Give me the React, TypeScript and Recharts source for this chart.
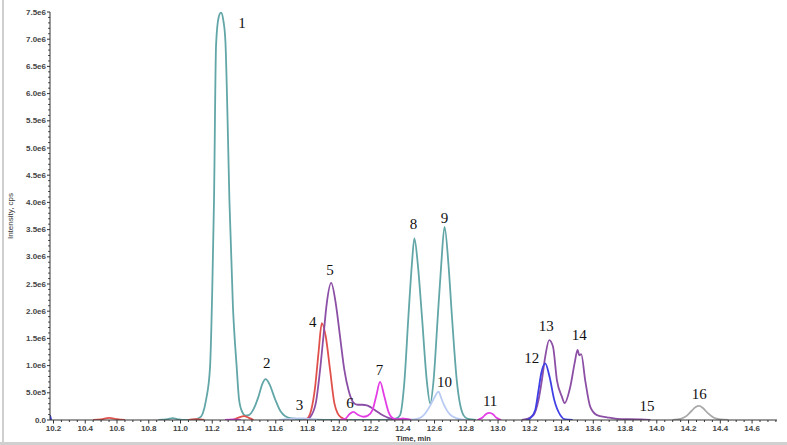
import React from "react";
import { ComposedChart, Line, XAxis, YAxis, ReferenceDot } from "recharts";

// ---- axis ticks ----
const xMajorTicks = [10.2, 10.4, 10.6, 10.8, 11.0, 11.2, 11.4, 11.6, 11.8, 12.0, 12.2, 12.4, 12.6, 12.8, 13.0, 13.2, 13.4, 13.6, 13.8, 14.0, 14.2, 14.4, 14.6];
const xTickLabels = ["10.2", "10.4", "10.6", "10.8", "11.0", "11.2", "11.4", "11.6", "11.8", "12.0", "12.2", "12.4", "12.6", "12.8", "13.0", "13.2", "13.4", "13.6", "13.8", "14.0", "14.2", "14.4", "14.6"];
const yMajorTicks = [0, 0.5, 1, 1.5, 2, 2.5, 3, 3.5, 4, 4.5, 5, 5.5, 6, 6.5, 7, 7.5];
const yTickLabels = ["0.0", "5.0e5", "1.0e6", "1.5e6", "2.0e6", "2.5e6", "3.0e6", "3.5e6", "4.0e6", "4.5e6", "5.0e6", "5.5e6", "6.0e6", "6.5e6", "7.0e6", "7.5e6"];
const xMinorTicks = Array.from({ length: 92 }, (_, i) => Math.round((10.2 + i * 0.05) * 100) / 100);
const yMinorTicks = Array.from({ length: 76 }, (_, i) => i / 10);

// ---- traces: [time (min), intensity (1e6 cps)] ----
const teal: (number | null)[][] = [
  [10.86, 0.0], [10.92, 0.015], [10.95, 0.035], [10.99, 0.01], [11.03, 0.0], [11.08, 0.005],
  [11.12, 0.04], [11.14, 0.12], [11.161, 0.37], [11.186, 0.97], [11.2, 2.4], [11.211, 4.04],
  [11.224, 6.9], [11.24, 7.4], [11.255, 7.49], [11.27, 7.34], [11.283, 6.95], [11.295, 5.7],
  [11.308, 4.04], [11.33, 2.1], [11.354, 0.97], [11.369, 0.37], [11.39, 0.14], [11.41, 0.08], [11.43, 0.09],
  [11.46, 0.2], [11.49, 0.42], [11.515, 0.66], [11.537, 0.75], [11.56, 0.66], [11.596, 0.38],
  [11.63, 0.16], [11.66, 0.07], [11.7, 0.03], [11.76, 0.015], [11.85, 0.005], [11.95, 0.0],
  [12.3, 0.0], [12.36, 0.03], [12.383, 0.09], [12.41, 0.7], [12.436, 1.93], [12.457, 2.85],
  [12.473, 3.34], [12.495, 2.85], [12.52, 1.93], [12.552, 0.7], [12.573, 0.3], [12.593, 0.7],
  [12.621, 1.93], [12.642, 2.85], [12.663, 3.55], [12.688, 2.85], [12.709, 1.93], [12.741, 0.7],
  [12.782, 0.09], [12.81, 0.02], [12.86, 0.0],
];
const red: (number | null)[][] = [
  [10.45, 0.0], [10.5, 0.01], [10.55, 0.04], [10.6, 0.015], [10.65, 0.0], [10.7, null],
  [11.05, 0.0], [11.1, 0.015], [11.15, 0.0], [11.2, null],
  [11.33, 0.0], [11.37, 0.05], [11.4, 0.07], [11.43, 0.04], [11.46, 0.0], [11.5, null],
  [11.78, 0.0], [11.806, 0.05], [11.823, 0.18], [11.848, 0.61], [11.869, 1.23], [11.89, 1.78],
  [11.915, 1.53], [11.942, 0.92], [11.969, 0.31], [11.99, 0.12], [12.016, 0.04], [12.05, 0.0],
];
const purple: (number | null)[][] = [
  [11.79, 0.0], [11.816, 0.05], [11.852, 0.31], [11.879, 0.92], [11.9, 1.53], [11.921, 2.14],
  [11.949, 2.52], [11.978, 2.14], [12.005, 1.53], [12.032, 0.92], [12.058, 0.55], [12.089, 0.32],
  [12.115, 0.28], [12.145, 0.28], [12.174, 0.27], [12.2, 0.23], [12.226, 0.18], [12.26, 0.11],
  [12.3, 0.05], [12.35, 0.01], [12.4, 0.02], [12.45, 0.0], [12.5, null],
  [13.15, 0.0], [13.182, 0.02], [13.223, 0.09], [13.255, 0.37], [13.276, 0.73], [13.297, 1.16],
  [13.322, 1.47], [13.346, 1.35], [13.371, 0.73], [13.402, 0.43], [13.419, 0.31], [13.455, 0.61],
  [13.482, 1.04], [13.501, 1.29], [13.511, 1.19], [13.524, 1.21], [13.549, 0.73], [13.581, 0.24],
  [13.623, 0.09], [13.686, 0.05], [13.75, 0.02], [13.9, 0.01], [13.96, 0.0],
];
const magenta: (number | null)[][] = [
  [11.28, 0.0], [11.33, 0.01], [11.38, 0.0], [11.42, null],
  [12.0, 0.0], [12.037, 0.02], [12.065, 0.11], [12.089, 0.15], [12.115, 0.1], [12.152, 0.06],
  [12.18, 0.08], [12.209, 0.18], [12.232, 0.43], [12.257, 0.7], [12.284, 0.43], [12.31, 0.15],
  [12.34, 0.03], [12.37, 0.01], [12.4, 0.03], [12.43, 0.01], [12.47, 0.0], [12.5, null],
  [12.87, 0.0], [12.9, 0.04], [12.925, 0.11], [12.946, 0.13], [12.97, 0.1], [12.99, 0.04], [13.02, 0.0],
];
const lavender: (number | null)[][] = [
  [11.62, 0.0], [11.67, 0.015], [11.72, 0.03], [11.78, 0.03], [11.82, 0.01], [11.86, 0.0], [11.9, null],
  [12.45, 0.0], [12.49, 0.02], [12.516, 0.05], [12.541, 0.12], [12.57, 0.25], [12.6, 0.42],
  [12.626, 0.52], [12.64, 0.42], [12.656, 0.3], [12.675, 0.19], [12.698, 0.1], [12.741, 0.03], [12.8, 0.0],
];
const blue: (number | null)[][] = [
  [10.178, 0.09], [10.186, 0.0], [10.2, null],
  [13.18, 0.0], [13.202, 0.03], [13.234, 0.18], [13.255, 0.55], [13.272, 0.86], [13.297, 1.04],
  [13.324, 0.8], [13.354, 0.37], [13.392, 0.09], [13.423, 0.01], [13.47, 0.0],
];
const gray: (number | null)[][] = [
  [14.1, 0.0], [14.15, 0.02], [14.19, 0.08], [14.22, 0.17], [14.245, 0.24], [14.267, 0.26],
  [14.29, 0.22], [14.32, 0.13], [14.36, 0.04], [14.4, 0.01], [14.45, 0.0],
];

// ---- peak numbers ----
const peakNames = ["1", "2", "3", "4", "5", "6", "7", "8", "9", "10", "11", "12", "13", "14", "15", "16"];
const peakLabelT = [11.388, 11.543, 11.749, 11.833, 11.942, 12.068, 12.253, 12.467, 12.662, 12.662, 12.95, 13.213, 13.303, 13.511, 13.938, 14.267];
const peakLabelV = [7.29, 1.05, 0.28, 1.81, 2.76, 0.32, 0.92, 3.61, 3.72, 0.69, 0.35, 1.14, 1.73, 1.56, 0.26, 0.47];

const toRows = (arr: (number | null)[][]) => arr.map(([t, v]) => ({ t, v }));

const seriesList = [
  { name: "teal", data: toRows(teal), color: "#62a6a8" },
  { name: "red", data: toRows(red), color: "#e0514c" },
  { name: "purple", data: toRows(purple), color: "#8c4fa6" },
  { name: "magenta", data: toRows(magenta), color: "#e33ee6" },
  { name: "lavender", data: toRows(lavender), color: "#b9cbf2" },
  { name: "blue", data: toRows(blue), color: "#3f3fe6" },
  { name: "gray", data: toRows(gray), color: "#a9a9a9" },
];

const AX = "#333";
const SANS = "'Liberation Sans', Arial, sans-serif";

const XTick = (props: any) => {
  const { x, y, payload } = props;
  const idx = xMajorTicks.findIndex((m) => Math.abs(m - payload.value) < 1e-6);
  const major = idx >= 0;
  return (
    <g>
      <line x1={x} y1={y} x2={x} y2={y + (major ? 3.5 : 2)} stroke={AX} strokeWidth={1} />
      {major && (
        <text x={x} y={y + 8.5} textAnchor="middle" dominantBaseline="central" fontSize={8} fontWeight="bold" fontFamily={SANS} fill="#444">
          {xTickLabels[idx]}
        </text>
      )}
    </g>
  );
};

const YTick = (props: any) => {
  const { x, y, payload } = props;
  const idx = yMajorTicks.findIndex((m) => Math.abs(m - payload.value) < 1e-6);
  const major = idx >= 0;
  return (
    <g>
      <line x1={x} y1={y} x2={x - (major ? 3 : 1.8)} y2={y} stroke={AX} strokeWidth={1} />
      {major && (
        <text x={x - 4} y={y} textAnchor="end" dominantBaseline="central" fontSize={8} fontWeight="bold" fontFamily={SANS} fill="#444">
          {yTickLabels[idx]}
        </text>
      )}
    </g>
  );
};

export default function App() {
  return (
    <div style={{ position: "absolute", left: 0, top: 0, width: 787, height: 445, background: "#fff", overflow: "hidden" }}>
      <ComposedChart width={787} height={445} margin={{ top: 12, right: 10, left: 0, bottom: 0 }}>
        <XAxis
          dataKey="t"
          type="number"
          domain={[10.178, 14.757]}
          allowDataOverflow
          ticks={xMinorTicks}
          interval={0}
          tick={<XTick />}
          tickLine={false}
          tickSize={0}
          tickMargin={0}
          height={25}
          axisLine={{ stroke: AX, strokeWidth: 1 }}
          label={(p: any) => {
            const vb = p.viewBox || { x: 50, y: 420, width: 727, height: 25 };
            return (
              <text x={vb.x + vb.width / 2} y={vb.y + 20.5} textAnchor="middle" fontSize={7.5} fontWeight="bold" fontFamily={SANS} fill="#333">
                Time, min
              </text>
            );
          }}
        />
        <YAxis
          type="number"
          domain={[0, 7.5]}
          allowDataOverflow
          ticks={yMinorTicks}
          interval={0}
          tick={<YTick />}
          tickLine={false}
          tickSize={0}
          tickMargin={0}
          width={50}
          axisLine={{ stroke: AX, strokeWidth: 1 }}
          label={(p: any) => {
            const vb = p.viewBox || { x: 0, y: 12, width: 50, height: 408 };
            const cy = vb.y + vb.height / 2;
            return (
              <text x={10} y={cy} transform={`rotate(-90, 10, ${cy})`} textAnchor="middle" dominantBaseline="central" fontSize={8} fontFamily={SANS} fill="#333">
                Intensity, cps
              </text>
            );
          }}
        />
        {seriesList.map((s) => (
          <Line
            key={s.name}
            data={s.data}
            dataKey="v"
            type="monotone"
            stroke={s.color}
            strokeWidth={1.8}
            dot={false}
            activeDot={false}
            connectNulls={false}
            isAnimationActive={false}
          />
        ))}
        {peakNames.map((n, i) => (
          <ReferenceDot
            key={n + i}
            x={peakLabelT[i]}
            y={peakLabelV[i]}
            r={0}
            ifOverflow="visible"
            shape={(p: any) => (
              <text x={p.cx} y={p.cy} textAnchor="middle" dominantBaseline="central" fontSize={15} fontFamily="'Liberation Serif', 'Times New Roman', serif" fill="#111">
                {n}
              </text>
            )}
          />
        ))}
      </ComposedChart>
      <div style={{ position: "absolute", left: 2, top: 0, width: 2, height: 445, background: "#cfcfcf" }} />
      <div style={{ position: "absolute", left: 0, top: 442, width: 787, height: 3, background: "#d0d0d0" }} />
    </div>
  );
}
